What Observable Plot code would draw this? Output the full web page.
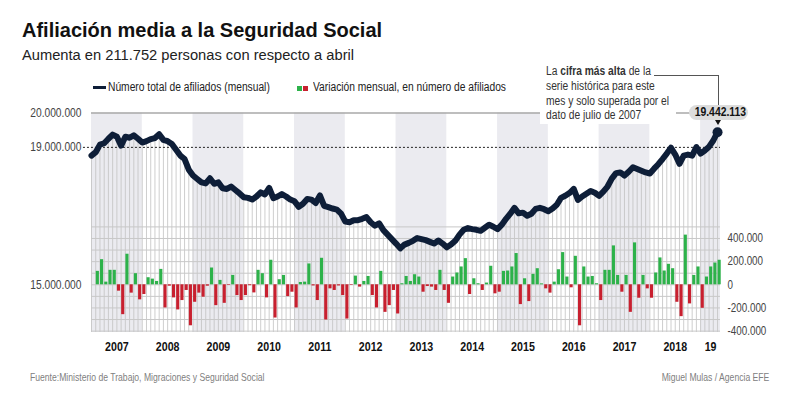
<!DOCTYPE html>
<html><head><meta charset="utf-8">
<script src="https://cdn.jsdelivr.net/npm/d3@7"></script>
<script src="https://cdn.jsdelivr.net/npm/@observablehq/plot@0.6"></script>
<style>
body{margin:0;background:#fff;}
#wrap{position:relative;width:800px;height:394px;overflow:hidden;background:#fff;font-family:"Liberation Sans",Arial,sans-serif;color:#222;}
.abs{position:absolute;white-space:nowrap;}
.nx{display:inline-block;transform:scaleX(0.82);transform-origin:0 0;}
.nxr{display:inline-block;transform:scaleX(0.82);transform-origin:100% 0;}
.nxc{display:inline-block;transform:scaleX(0.82);transform-origin:50% 0;}
#wrap svg{position:absolute;left:0;top:0;}
</style></head><body><div id="wrap"></div>
<script>
// ---- data ----
const years = ["2007","2008","2009","2010","2011","2012","2013","2014","2015","2016","2017","2018","2019"];
const yearLabels = ["2007","2008","2009","2010","2011","2012","2013","2014","2015","2016","2017","2018","19"];
// total affiliates, millions, monthly Jan 2007 .. May 2019
const totalAfiliados = [
18.76,18.86,19.08,19.12,19.25,19.37,19.31,19.05,19.31,19.28,19.35,19.25,
19.14,19.18,19.24,19.27,19.38,19.22,19.18,19.10,18.93,18.76,18.66,18.35,
18.18,18.08,17.98,17.95,18.10,17.94,17.98,17.81,17.79,17.86,17.76,17.66,
17.55,17.53,17.48,17.57,17.69,17.63,17.82,17.52,17.57,17.64,17.57,17.48,
17.43,17.27,17.36,17.50,17.48,17.38,17.60,17.30,17.26,17.22,17.19,17.07,
16.84,16.82,16.88,16.88,16.92,16.97,16.82,16.72,16.79,16.59,16.46,16.33,
16.20,16.06,16.17,16.22,16.28,16.36,16.33,16.30,16.25,16.20,16.29,16.20,
16.09,16.17,16.28,16.46,16.60,16.65,16.62,16.60,16.57,16.66,16.75,16.69,
16.62,16.75,16.92,17.07,17.24,17.08,17.10,17.01,17.07,17.21,17.24,17.20,
17.14,17.22,17.33,17.53,17.59,17.67,17.79,17.47,17.57,17.65,17.73,17.68,
17.59,17.71,17.86,18.09,18.25,18.27,18.18,18.29,18.42,18.37,18.32,18.27,
18.24,18.38,18.51,18.66,18.82,18.99,18.79,18.52,18.76,18.79,18.76,19.01,
18.82,18.91,19.02,19.20,19.442113];
// monthly variation, thousands (first month not shown)
const variacionMensual = [
null,116,217,23,125,125,-55,-258,264,-72,96,-130,
-84,61,49,29,133,-200,-12,-113,-217,-136,-49,-354,
-151,-72,-107,-12,145,-180,38,-160,-5,81,-93,-136,
-93,-8,-70,125,96,-113,212,-287,44,81,-102,-64,
-200,20,23,180,-10,-136,229,-304,-35,-49,-10,-93,
-296,-5,75,-20,29,72,-93,-200,116,-238,-180,-49,
-252,9,72,29,87,67,-64,-15,-20,-49,125,-49,
-160,67,102,154,226,-84,52,9,-49,15,160,-78,
-64,116,119,154,270,-171,52,-145,90,139,8,-35,
-72,23,130,278,67,-26,246,-354,154,67,72,9,
-136,125,125,336,81,-64,81,-238,362,-116,81,-35,
-116,102,232,119,177,139,-151,-275,429,-165,81,154,
-203,67,154,188,212];
const leftTicks = [15e6,19e6,20e6];
const rightTicks = [-400e3,-200e3,0,200e3,400e3];
const gridValues = [-400e3,-300e3,-200e3,-100e3,0,100e3,200e3,300e3,400e3,500e3];

// ---- tables ----
const N = totalAfiliados.length;
const table = totalAfiliados.map((v,i)=>({i, total:v*1e6}));
const bars = variacionMensual.map((v,i)=>({i, v: v==null?null:v*1e3})).filter(d=>d.v!=null);
const xMax = 148.7;
const bandData = years.map((y,k)=>({k, x1:12*k, x2:Math.min(12*k+12,xMax)})).filter(d=>d.k%2===0);
const yearMids = years.map((y,k)=>(12*k + Math.min(12*k+12,xMax))/2);

const loc = d3.formatLocale({decimal:",",thousands:".",grouping:[3],currency:["","€"],minus:"-"});
const fmt = loc.format(",");

const NAVY="#0e1e38", GREEN="#2db24a", RED="#c8202f";
const FONT = '"Liberation Sans",Arial,sans-serif';
const SQ = 0.82; // condensed look
const yLine = [13.612e6, 20e6];
const common = {width:800,height:394,marginLeft:91,marginRight:80,marginBottom:62};

const wrap = document.getElementById("wrap");

function condense(svg){
  svg.querySelectorAll("text").forEach(t=>{
    const tr = t.getAttribute("transform") || "";
    t.setAttribute("transform", tr + " scale(" + SQ + ",1)");
  });
  return svg;
}

// background layer
const svgA = Plot.plot({...common, marginTop:112.5,
  style:{background:"#fff",fontFamily:FONT,fontSize:"12.5px",color:"#222",overflow:"visible"},
  x:{domain:[0,xMax]}, y:{domain:yLine},
  marks:[
    Plot.rect(bandData,{x1:"x1",x2:"x2",y1:()=>yLine[0],y2:()=>20e6,fill:"#ebebf0"}),
    Plot.ruleX(table,{x:"i",y1:"total",y2:()=>yLine[0],stroke:"#c2c2c2",strokeWidth:0.8}),
    Plot.ruleY([20e6],{stroke:"#a8a8a8",strokeWidth:1.5}),
    Plot.ruleY([19e6],{x1:()=>-1.9,x2:()=>xMax,stroke:"#222",strokeWidth:1,strokeDasharray:"2,2"}),
    Plot.axisY({ticks:leftTicks,tickFormat:fmt,tickSize:0,tickPadding:10,fill:"#444",label:null,fontSize:12.5}),
    Plot.axisX({ticks:yearMids,tickFormat:d=>yearLabels[Math.floor(d/12)],tickSize:0,tickPadding:9,fontWeight:"bold",fontSize:13,fill:"#111",label:null})
  ]});
wrap.appendChild(condense(svgA));

// annotation white box
const box = document.createElement("div");
box.className="abs";
box.style.cssText="left:540px;top:60px;width:136px;height:64px;background:#fff;";
wrap.appendChild(box);

// bars layer
const svgB = Plot.plot({...common, marginTop:226.4,
  style:{background:"transparent",fontFamily:FONT,fontSize:"12px",color:"#333",overflow:"visible"},
  x:{domain:[0,xMax],axis:null}, y:{domain:[-412e3,500e3],axis:null},
  marks:[
    Plot.ruleY(gridValues,{stroke:"#c8c8c8",strokeWidth:1}),
    Plot.rect(bars.filter(d=>d.v>=0),{x1:d=>d.i+0.13,x2:d=>d.i+0.87,y1:()=>0,y2:"v",fill:GREEN}),
    Plot.rect(bars.filter(d=>d.v<0),{x1:d=>d.i+0.13,x2:d=>d.i+0.87,y1:()=>0,y2:"v",fill:RED}),
    Plot.axisY({anchor:"right",ticks:rightTicks,tickFormat:fmt,tickSize:0,tickPadding:7,fill:"#444",label:null,fontSize:12})
  ]});
wrap.appendChild(condense(svgB));

// line layer
const last = table[N-1];
const svgC = Plot.plot({...common, marginTop:112.5,
  style:{background:"transparent",overflow:"visible"},
  x:{domain:[0,xMax],axis:null}, y:{domain:yLine,axis:null},
  marks:[
    Plot.line(table,{x:"i",y:"total",stroke:NAVY,strokeWidth:6,strokeLinejoin:"round",strokeLinecap:"round"}),
    Plot.dot([last],{x:"i",y:"total",r:5,fill:NAVY})
  ]});
wrap.appendChild(svgC);

function add(html, css, cls){
  const d=document.createElement("div"); d.className="abs"; d.style.cssText=css;
  d.innerHTML = cls ? '<span class="'+cls+'">'+html+'</span>' : html;
  wrap.appendChild(d); return d;
}
// titles
add("Afiliación media a la Seguridad Social","left:22px;top:20px;font-size:20px;line-height:20px;font-weight:bold;color:#111;");
add("Aumenta en 211.752 personas con respecto a abril","left:22px;top:47.6px;font-size:14.7px;line-height:14.7px;color:#222;");
// legend
add("","left:93px;top:85.5px;width:13px;height:3.5px;background:"+NAVY+";");
add("Número total de afiliados (mensual)","left:108px;top:81px;font-size:12.5px;line-height:12.5px;color:#222;","nx");
add("","left:297px;top:85.5px;width:5px;height:5px;background:"+GREEN+";");
add("","left:302.5px;top:85.5px;width:5px;height:5px;background:"+RED+";");
add("Variación mensual, en número de afiliados","left:313px;top:81px;font-size:12.5px;line-height:12.5px;color:#222;","nx");
// annotation text
add('<span id="l1">La <b>cifra más alta</b> de la</span><br>serie histórica para este<br>mes y solo superada por el<br>dato de julio de 2007',
  "left:546px;top:64px;font-size:12.5px;line-height:14.8px;color:#333;","nx");
// pill + leader
const cx = svgC.scale("x").apply(last.i)+1;
const cy = svgC.scale("y").apply(last.total);
const pillTop = cy-26.5;
const l1 = document.getElementById("l1").getBoundingClientRect();
const wr = wrap.getBoundingClientRect();
const hx = l1.right - wr.left + 3;
add("","left:"+hx+"px;top:75px;width:"+(cx-hx)+"px;height:1px;background:#555;");
add("","left:"+cx+"px;top:75px;width:1px;height:"+(pillTop-75)+"px;background:#555;");
add(fmt(Math.round(last.total)),"left:"+(cx-29.5)+"px;top:"+pillTop+"px;width:59px;height:15px;border-radius:8px;background:#dcdcdc;text-align:center;font-size:12.7px;line-height:15px;font-weight:bold;color:#111;","nxc");
add("","left:"+(cx-3.5)+"px;top:"+(pillTop+15)+"px;width:0;height:0;border-left:3.5px solid transparent;border-right:3.5px solid transparent;border-top:5px solid #111;");
// footer
add("Fuente:Ministerio de Trabajo, Migraciones y Seguridad Social","left:30px;top:371.6px;font-size:10.5px;line-height:10.5px;color:#808080;","nx");
add("Miguel Mulas / Agencia EFE","right:31px;top:371.6px;font-size:10.5px;line-height:10.5px;color:#808080;","nxr");
</script></body></html>
